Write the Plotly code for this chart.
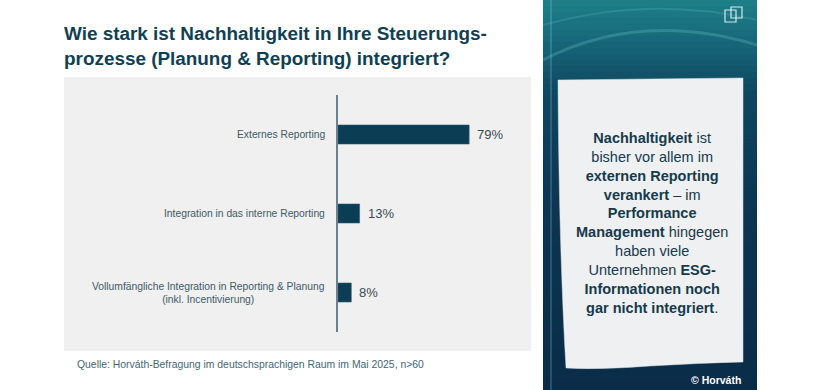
import plotly.graph_objects as go

# ---- data ----
categories = [
    "Externes Reporting",
    "Integration in das interne Reporting",
    "Vollumfängliche Integration in Reporting & Planung<br>(inkl. Incentivierung)",
]
values = [79, 13, 8]
value_labels = ["79%", "13%", "8%"]

title_text = "Wie stark ist Nachhaltigkeit in Ihre Steuerungs-<br>prozesse (Planung & Reporting) integriert?"
source_text = "Quelle: Horváth-Befragung im deutschsprachigen Raum im Mai 2025, n>60"
panel_text = ("<b>Nachhaltigkeit</b> ist<br>bisher vor allem im<br><b>externen Reporting</b><br>"
              "<b>verankert</b> – im<br><b>Performance</b><br><b>Management</b> hingegen<br>"
              "haben viele<br>Unternehmen <b>ESG-</b><br><b>Informationen noch</b><br>"
              "<b>gar nicht integriert</b>.")
copyright_text = "© Horváth"

W, H = 820, 390
SANS = "Liberation Sans, Arial, sans-serif"


def px(x):
    return x / W


def py(y):
    return 1 - y / H


fig = go.Figure()
fig.add_trace(go.Bar(
    x=values, y=categories, orientation="h",
    marker=dict(color="#0b3d55", line=dict(color="#2a5a70", width=0.6)),
    width=0.24, hoverinfo="skip",
))

shapes = []
# grey chart panel
shapes.append(dict(type="rect", xref="paper", yref="paper",
                   x0=px(64), x1=px(531), y0=py(351), y1=py(77),
                   fillcolor="#f0f0f0", line=dict(width=0), layer="below"))

# right dark panel gradient
stops = [(0, (30, 128, 136)), (40, (23, 104, 122)), (95, (15, 70, 96)),
         (200, (12, 54, 83)), (390, (10, 44, 72))]


def col_at(y):
    for (ya, ca), (yb, cb) in zip(stops[:-1], stops[1:]):
        if ya <= y <= yb:
            t = (y - ya) / (yb - ya)
            c = [round(a + (b - a) * t) for a, b in zip(ca, cb)]
            return "rgb(%d,%d,%d)" % tuple(c)
    return "rgb(10,44,72)"


N = 65
for i in range(N):
    y0 = i * H / N
    y1 = (i + 1) * H / N + 0.6
    shapes.append(dict(type="rect", xref="paper", yref="paper",
                       x0=px(543), x1=px(757), y0=py(min(y1, H)), y1=py(y0),
                       fillcolor=col_at((y0 + y1) / 2), line=dict(width=0), layer="below"))

# faint glow arcs
shapes.append(dict(type="path", xref="paper", yref="paper",
                   path="M %f,%f Q %f,%f %f,%f" % (px(543), py(60), px(640), py(10), px(757), py(45)),
                   line=dict(color="rgba(120,210,215,0.25)", width=3), layer="below"))
shapes.append(dict(type="path", xref="paper", yref="paper",
                   path="M %f,%f Q %f,%f %f,%f" % (px(543), py(25), px(650), py(-5), px(757), py(20)),
                   line=dict(color="rgba(120,210,215,0.18)", width=2), layer="below"))
# thin vertical line on left of panel
shapes.append(dict(type="line", xref="paper", yref="paper",
                   x0=px(551), x1=px(551), y0=py(390), y1=py(0),
                   line=dict(color="rgba(150,215,225,0.45)", width=1), layer="below"))

# card (slightly curled paper)
card_path = ("M %f,%f L %f,%f L %f,%f Q %f,%f %f,%f Q %f,%f %f,%f Q %f,%f %f,%f Z" % (
    px(558), py(80), px(743), py(78), px(743), py(362),
    px(700), py(363), px(650), py(366),
    px(595), py(370), px(566), py(368),
    px(559), py(250), px(558), py(80)))
shapes.append(dict(type="path", xref="paper", yref="paper", path=card_path,
                   fillcolor="#eef0f1", line=dict(color="#dfe3e5", width=0.5), layer="below"))

# icon top right
for (a, b, c, d) in [(725, 10, 736, 22), (731, 7, 742, 18)]:
    shapes.append(dict(type="rect", xref="paper", yref="paper",
                       x0=px(a), x1=px(c), y0=py(d), y1=py(b),
                       line=dict(color="rgba(235,245,248,0.9)", width=1.2), layer="below"))

annotations = []
# title
annotations.append(dict(xref="paper", yref="paper", x=px(62), y=py(46),
                        xanchor="left", yanchor="middle", align="left", showarrow=False,
                        text="<b>" + title_text + "</b>",
                        font=dict(family=SANS, size=18.9, color="#0f3f55")))
# category labels
for cat in categories:
    annotations.append(dict(xref="x", yref="y", x=0, y=cat, xshift=-11,
                            xanchor="right", yanchor="middle", align="center", showarrow=False,
                            text=cat, font=dict(family=SANS, size=10.3, color="#405a66")))
# value labels
for cat, v, lab in zip(categories, values, value_labels):
    annotations.append(dict(xref="x", yref="y", x=v, y=cat, xshift=6,
                            xanchor="left", yanchor="middle", showarrow=False,
                            text=lab, font=dict(family=SANS, size=13, color="#3a4a52")))
# source
annotations.append(dict(xref="paper", yref="paper", x=px(75), y=py(364),
                        xanchor="left", yanchor="middle", showarrow=False,
                        text=source_text, font=dict(family=SANS, size=10.4, color="#3e6775")))
# panel text
annotations.append(dict(xref="paper", yref="paper", x=px(652), y=py(223),
                        xanchor="center", yanchor="middle", align="center", showarrow=False,
                        text=panel_text, font=dict(family=SANS, size=14.5, color="#163a4c")))
# copyright
annotations.append(dict(xref="paper", yref="paper", x=px(743), y=py(380),
                        xanchor="right", yanchor="middle", showarrow=False,
                        text="<b>" + copyright_text + "</b>",
                        font=dict(family=SANS, size=10.5, color="#ffffff")))

fig.update_layout(
    width=W, height=H, autosize=False,
    margin=dict(l=0, r=0, t=0, b=0),
    paper_bgcolor="#ffffff", plot_bgcolor="rgba(0,0,0,0)",
    showlegend=False,
    xaxis=dict(domain=[px(338), px(504)], range=[0, 100], visible=False, fixedrange=True),
    yaxis=dict(domain=[py(332), py(95)], categoryorder="array", categoryarray=categories[::-1],
               range=[-0.5, 2.5], showticklabels=False, ticks="", showgrid=False, zeroline=False,
               showline=True, linecolor="#6f8088", linewidth=1.5, fixedrange=True),
    shapes=shapes, annotations=annotations,
)

fig.write_html("out.html", config=dict(displayModeBar=False),
               post_script="document.body.style.margin='0px';document.documentElement.style.overflow='hidden';")
